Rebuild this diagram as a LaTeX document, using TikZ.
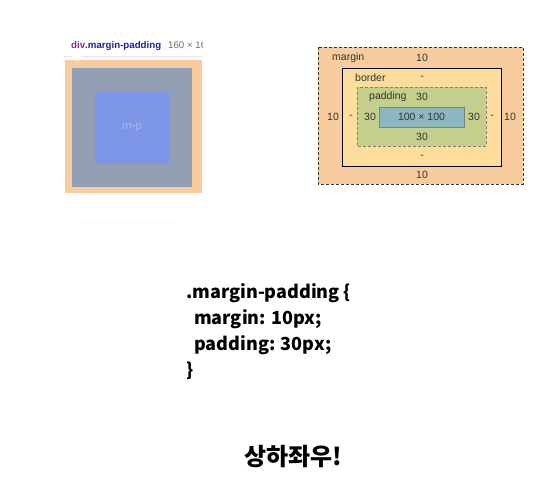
\documentclass[tikz,border=0pt]{standalone}
\usepackage{fontspec}
\setmainfont{Liberation Sans}
\newfontfamily\krfont{Noto Sans CJK KR}
\definecolor{marg}{HTML}{F9CC9D}
\definecolor{grayb}{HTML}{929FB3}
\definecolor{blueb}{HTML}{7D95E6}
\definecolor{mptext}{HTML}{AAB8EC}
\definecolor{divpurple}{HTML}{8B2A8B}
\definecolor{selblue}{HTML}{1F1FA0}
\definecolor{dimtext}{HTML}{6E6E6E}
\definecolor{bordfill}{HTML}{FDDD9B}
\definecolor{padfill}{HTML}{C3CF8A}
\definecolor{contfill}{HTML}{8CB6C0}
\definecolor{lbl}{HTML}{333333}
\tikzset{
  boxlbl/.style={font=\fontsize{10.5}{12}\selectfont, text=lbl, inner sep=0pt},
  codeln/.style={font=\krfont\bfseries\fontsize{18}{20}\selectfont, anchor=west, inner sep=0pt},
}
\begin{document}
\begin{tikzpicture}[x=1pt,y=-1pt]
\useasboundingbox (0,0) rectangle (557,498);
% ---------- left panel ----------
\fill[marg] (65,60) rectangle (202,193);
\fill[grayb] (72,68) rectangle (192,187);
\fill[blueb] (95,91) rectangle (169,164);
\node[font=\fontsize{11.5}{13}\selectfont, text=mptext] (mp) at (132,127.5) {m-p};
% tooltip
\begin{scope}
\clip (60,30) rectangle (202,70);
\fill[black!10] (63,38) rectangle (204,57);
\fill[white] (63,37) rectangle (204,56);
\fill[white] (72,55) -- (77.5,61) -- (83,55) -- cycle;
\node[anchor=west, inner sep=0pt, font=\bfseries\fontsize{9.7}{11}\selectfont] (tip) at (71,46)
  {\textcolor{divpurple}{div}\textcolor{selblue}{.margin-padding}\hspace{7pt}\mdseries\textcolor{dimtext}{160 × 160}};
\end{scope}
% ---------- right panel ----------
\draw[lbl, fill=marg, line width=0.8pt, dash pattern=on 3pt off 2pt] (318,47) rectangle (523,184);
\draw[black, fill=bordfill, line width=1pt] (342,68) rectangle (501,166);
\draw[gray, fill=padfill, line width=0.7pt, dash pattern=on 3pt off 2pt] (357,87) rectangle (486,146);
\draw[gray, fill=contfill, line width=0.7pt] (379,107) rectangle (464,127);
\node[boxlbl, anchor=west] (lm) at (332,58) {margin};
\node[boxlbl] (mt) at (422,58) {10};
\node[boxlbl, anchor=west] (lb) at (355,78) {border};
\node[boxlbl] (bt) at (422,78) {-};
\node[boxlbl, anchor=west] (lp) at (369,97) {padding};
\node[boxlbl] (pt) at (422,97) {30};
\node[boxlbl] (ml) at (333,117) {10};
\node[boxlbl] (bl) at (351,117) {-};
\node[boxlbl] (pl) at (370,117) {30};
\node[boxlbl] (ct) at (421.5,117) {100 × 100};
\node[boxlbl] (pr) at (474,117) {30};
\node[boxlbl] (br) at (492,117) {-};
\node[boxlbl] (mr) at (510,117) {10};
\node[boxlbl] (pb) at (422,137) {30};
\node[boxlbl] (bb) at (422,157) {-};
\node[boxlbl] (mb) at (422,175) {10};
% ---------- code ----------
\node[codeln] (c1) at (186,293) {.margin-padding \{};
\node[codeln] (c2) at (194,319) {margin: 10px;};
\node[codeln] (c3) at (194,345) {padding: 30px;};
\node[codeln] (c4) at (186,371) {\}};
\node[font=\krfont\bfseries\fontsize{24}{26}\selectfont, inner sep=0pt] (kr) at (293,457) {상하좌우!};
\end{tikzpicture}
\end{document}
